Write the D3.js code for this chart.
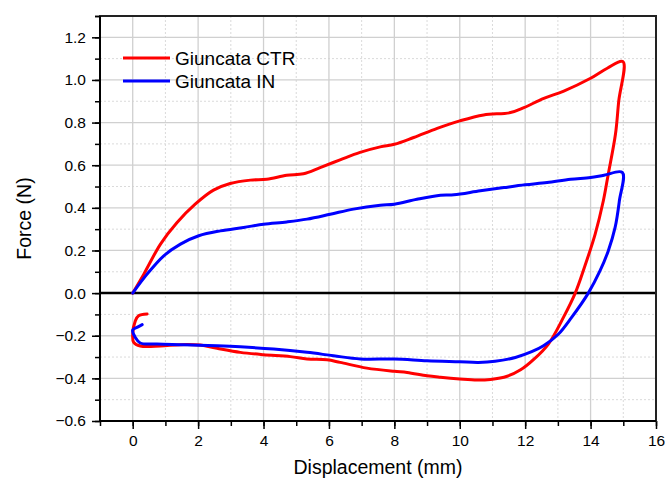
<!DOCTYPE html>
<html>
<head>
<meta charset="utf-8">
<script src="https://cdn.jsdelivr.net/npm/d3@7"></script>
<style>
body { margin:0; background:#fff; }
text { font-family: Arial, "Liberation Sans", sans-serif; fill:#000; }
</style>
</head>
<body>
<svg width="665" height="481"></svg>
<script>
// Giuncata CTR (red) : loading, unloading, return
var ctrX = [0,0.34,0.85,1.35,1.91,2.47,2.98,3.6,4.1,4.71,5.22,5.73,6.34,6.95,7.57,8.0,8.59,9.31,10.0,10.73,11.55,11.96,12.57,13.18,14.0,14.51,14.99,
            14.86,14.76,14.54,14.39,14.14,13.81,13.53,13.17,12.71,12.27,11.86,11.45,10.94,10.53,10.0,9.41,9.0,8.39,8.0,7.16,6.34,5.94,5.33,4.82,4.0,3.29,2.58,2.07,1.46,0.85,0.23,0.03,0,0.08,0.18,0.44];
var ctrY = [0,0.089,0.23,0.33,0.417,0.483,0.514,0.53,0.534,0.553,0.56,0.589,0.625,0.66,0.686,0.698,0.73,0.773,0.808,0.836,0.847,0.87,0.914,0.948,1.008,1.055,1.086,
            0.9,0.745,0.558,0.433,0.277,0.12,0,-0.114,-0.239,-0.31,-0.36,-0.39,-0.405,-0.408,-0.403,-0.395,-0.388,-0.372,-0.367,-0.352,-0.325,-0.313,-0.309,-0.298,-0.289,-0.278,-0.259,-0.244,-0.242,-0.248,-0.248,-0.231,-0.192,-0.13,-0.106,-0.098];
// Giuncata IN (blue)
var inX = [0,0.44,0.95,1.46,2.02,2.68,3.39,4.0,4.71,5.33,6.04,6.75,7.57,8.0,8.69,9.41,9.82,10.63,11.35,12.0,12.67,13.39,14.0,14.41,14.97,
           14.88,14.75,14.54,14.29,13.93,13.42,13.02,12.56,12.2,11.7,11.08,10.57,10.0,9.0,8.0,6.96,6.14,5.33,4.31,3.29,2.58,1.56,0.74,0.23,0.08,0,0.13,0.29];
var inY = [0,0.089,0.175,0.23,0.269,0.292,0.308,0.323,0.334,0.347,0.37,0.394,0.412,0.417,0.44,0.459,0.461,0.48,0.495,0.508,0.519,0.534,0.542,0.553,0.566,
           0.433,0.308,0.198,0.105,0,-0.114,-0.192,-0.247,-0.275,-0.302,-0.32,-0.325,-0.322,-0.317,-0.309,-0.309,-0.294,-0.278,-0.2625,-0.252,-0.247,-0.242,-0.239,-0.234,-0.208,-0.173,-0.161,-0.148];

var seriesNames = ["Giuncata CTR", "Giuncata IN"];
var seriesColors = ["#ff0000", "#0000ff"];
var xTicks = [0,2,4,6,8,10,12,14,16];
var yTicks = [-0.6,-0.4,-0.2,0.0,0.2,0.4,0.6,0.8,1.0,1.2];

var pLeft = 100, pRight = 656, pTop = 16, pBottom = 421;

var svg = d3.select('svg');

var x = d3.scaleLinear().domain([-1, 16]).range([pLeft, pRight]);
var y = d3.scaleLinear().domain([-0.6, 1.3]).range([pBottom, pTop]);

var xMinor = d3.range(-1, 16.01, 1);
var yMinor = d3.range(-6, 14).map(function(i) { return i / 10; });

// grid: dotted minor, solid major
var grid = svg.append('g');
grid.selectAll('.vm').data(xMinor.filter(function(d) { return xTicks.indexOf(d) < 0 && d > -1; }))
  .enter().append('line')
  .attr('x1', x).attr('x2', x).attr('y1', pTop).attr('y2', pBottom)
  .attr('stroke', '#dadada').attr('stroke-width', 1).attr('stroke-dasharray', '2,2');
grid.selectAll('.hm').data(yMinor.filter(function(d) { return Math.round(d * 10) % 2 !== 0; }))
  .enter().append('line')
  .attr('y1', y).attr('y2', y).attr('x1', pLeft).attr('x2', pRight)
  .attr('stroke', '#dadada').attr('stroke-width', 1).attr('stroke-dasharray', '2,2');
grid.selectAll('.vM').data(xTicks.filter(function(d) { return d < 16; }))
  .enter().append('line')
  .attr('x1', x).attr('x2', x).attr('y1', pTop).attr('y2', pBottom)
  .attr('stroke', '#d0d0d0').attr('stroke-width', 1.3);
grid.selectAll('.hM').data(yTicks.filter(function(d) { return d > -0.6; }))
  .enter().append('line')
  .attr('y1', y).attr('y2', y).attr('x1', pLeft).attr('x2', pRight)
  .attr('stroke', '#d0d0d0').attr('stroke-width', 1.3);

// zero line
svg.append('line')
  .attr('x1', pLeft).attr('x2', pRight).attr('y1', y(0)).attr('y2', y(0))
  .attr('stroke', '#000').attr('stroke-width', 2.5);

// curves
var line = d3.line()
  .x(function(d) { return x(d[0]); })
  .y(function(d) { return y(d[1]); })
  .curve(d3.curveCatmullRom.alpha(0.5));

var ctr = ctrX.map(function(v, i) { return [v, ctrY[i]]; });
var inn = inX.map(function(v, i) { return [v, inY[i]]; });

[ctr, inn].forEach(function(pts, i) {
  svg.append('path')
    .attr('d', line(pts))
    .attr('fill', 'none')
    .attr('stroke', seriesColors[i])
    .attr('stroke-width', 3)
    .attr('stroke-linejoin', 'round')
    .attr('stroke-linecap', 'round');
});

// axes
var xAxis = d3.axisBottom(x).tickValues(xTicks).tickSize(8).tickPadding(6).tickFormat(d3.format('d'));
var xAxisMinor = d3.axisBottom(x).tickValues(xMinor).tickSize(5).tickFormat('');
var yAxis = d3.axisLeft(y).tickValues(yTicks).tickSize(8).tickPadding(6).tickFormat(d3.format('.1f'));
var yAxisMinor = d3.axisLeft(y).tickValues(yMinor.concat([1.3])).tickSize(5).tickFormat('');

function styleAxis(g) {
  g.select('.domain').remove();
  g.attr('font-size', 15.5).attr('font-family', 'Arial, "Liberation Sans", sans-serif');
  g.selectAll('line').attr('stroke', '#000').attr('stroke-width', 1.5);
}

svg.append('g').attr('transform', 'translate(0,' + pBottom + ')').call(xAxisMinor).call(styleAxis);
svg.append('g').attr('transform', 'translate(0,' + pBottom + ')').call(xAxis).call(styleAxis);
svg.append('g').attr('transform', 'translate(' + pLeft + ',0)').call(yAxisMinor).call(styleAxis);
svg.append('g').attr('transform', 'translate(' + pLeft + ',0)').call(yAxis).call(styleAxis);

// frame
svg.append('rect')
  .attr('x', pLeft).attr('y', pTop).attr('width', pRight - pLeft).attr('height', pBottom - pTop)
  .attr('fill', 'none').attr('stroke', '#222').attr('stroke-width', 2);
svg.append('line').attr('x1', pLeft).attr('x2', pLeft).attr('y1', pTop).attr('y2', pBottom + 1)
  .attr('stroke', '#000').attr('stroke-width', 2);
svg.append('line').attr('x1', pLeft - 1).attr('x2', pRight).attr('y1', pBottom).attr('y2', pBottom)
  .attr('stroke', '#000').attr('stroke-width', 2);

// axis titles
svg.append('text')
  .attr('x', (pLeft + pRight) / 2).attr('y', 474)
  .attr('text-anchor', 'middle')
  .style('font-size', '19.5px')
  .text('Displacement (mm)');
svg.append('text')
  .attr('transform', 'translate(31,' + (pTop + pBottom) / 2 + ')rotate(-90)')
  .attr('text-anchor', 'middle')
  .style('font-size', '19.5px')
  .text('Force (N)');

// legend
var legend = svg.append('g');
seriesNames.forEach(function(name, i) {
  var ly = 58 + i * 23;
  legend.append('line')
    .attr('x1', 123).attr('x2', 170).attr('y1', ly).attr('y2', ly)
    .attr('stroke', seriesColors[i]).attr('stroke-width', 3);
  legend.append('text')
    .attr('x', 175).attr('y', ly + 7)
    .style('font-size', '19px')
    .text(name);
});
</script>
</body>
</html>
